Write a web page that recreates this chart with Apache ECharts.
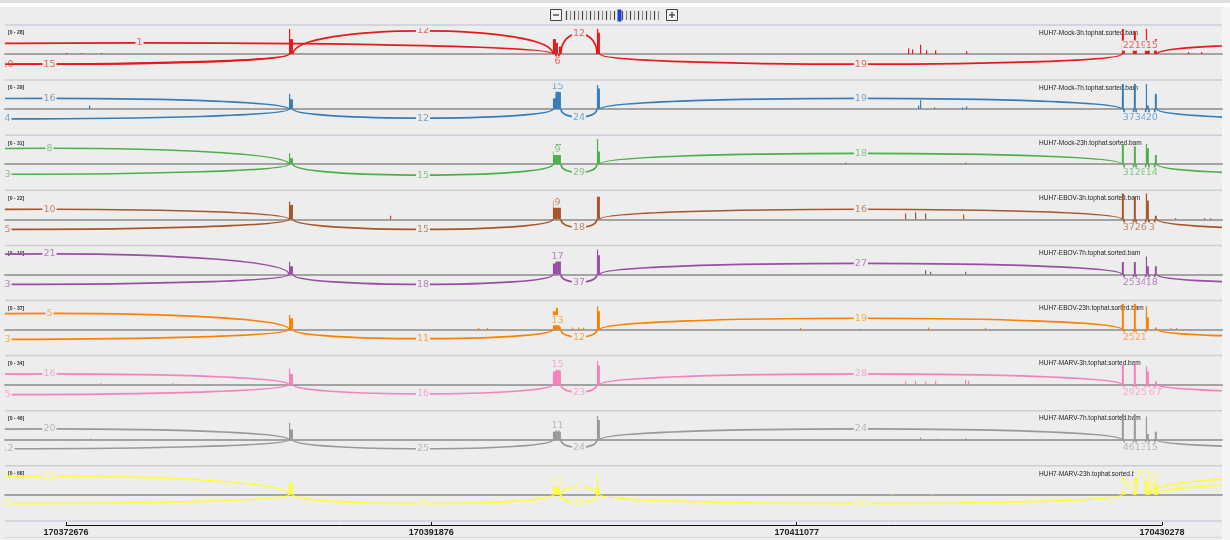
<!DOCTYPE html>
<html>
<head>
<meta charset="utf-8">
<script src="https://cdn.jsdelivr.net/npm/echarts@6/dist/echarts.min.js"></script>
<style>
html, body { margin: 0; padding: 0; background: #ededed; }
#sashimi { width: 1230px; height: 540px; }
</style>
</head>
<body>
<div id="sashimi"></div>
<script type="text/javascript">
	// visible window (chr position) and ruler ticks
	var viewStart = 170369470, viewEnd = 170433432;
	var tickValues = [170372676, 170391876, 170411077, 170430278];

	var trackNames = [
		'HUH7-Mock-3h.tophat.sorted.bam', 'HUH7-Mock-7h.tophat.sorted.bam', 'HUH7-Mock-23h.tophat.sorted.bam',
		'HUH7-EBOV-3h.tophat.sorted.bam', 'HUH7-EBOV-7h.tophat.sorted.bam', 'HUH7-EBOV-23h.tophat.sorted.bam',
		'HUH7-MARV-3h.tophat.sorted.bam', 'HUH7-MARV-7h.tophat.sorted.bam', 'HUH7-MARV-23h.tophat.sorted.bam'
	];
	var trackRanges = [28, 29, 31, 22, 19, 37, 34, 46, 68];

	// exon blocks (coverage pieces), same for every track
	var exonBlocks = [
		[170384395, 170384448], [170384448, 170384605],
		[170398268, 170398426], [170398426, 170398531], [170398583, 170398688],
		[170400580, 170400633], [170400633, 170400738],
		[170428169, 170428274], [170428799, 170428904],
		[170429430, 170429482], [170429482, 170429588], [170429903, 170430008]
	];
	// depth of each exon block, per track
	var depthMock3h  = [27, 16, 16, 12, 8, 27, 23, 27, 24, 27, 5, 16];
	var depthMock7h  = [17, 11, 12, 19, 19, 27, 23, 28, 28, 28, 4, 17];
	var depthMock23h = [13, 7, 15, 24, 24, 30, 15, 24, 21, 24, 19, 11];
	var depthEbov3h  = [15, 12, 16, 18, 18, 19, 19, 22, 19, 22, 16, 3];
	var depthEbov7h  = [9, 6, 8, 10, 10, 18, 14, 9, 9, 13, 6, 6];
	var depthEbov23h = [21, 16, 26, 31, 4, 33, 26, 37, 37, 33, 17, 3];
	var depthMarv3h  = [21, 14, 17, 18, 18, 31, 25, 26, 29, 24, 17, 4];
	var depthMarv7h  = [30, 18, 14, 14, 14, 42, 35, 46, 46, 41, 10, 14];
	var depthMarv23h = [31, 31, 21, 21, 5, 55, 20, 47, 44, 34, 10, 30];

	// scattered reads outside the exons: [position, depth]
	var readsMock3h  = [[170372676, 1], [170373464, 1], [170374515, 1], [170416929, 6], [170417139, 5], [170417560, 10], [170417875, 4], [170418348, 4], [170419977, 3], [170431645, 2], [170432328, 2]];
	var readsMock7h  = [[170373885, 4], [170417455, 4], [170417560, 10], [170418295, 2], [170419767, 2], [170419977, 3]];
	var readsMock23h = [[170413618, 2], [170419925, 2]];
	var readsEbov3h  = [[170389704, 3], [170416771, 5], [170417297, 6], [170417822, 5], [170419820, 4], [170430962, 1], [170432486, 1], [170432801, 1]];
	var readsEbov7h  = [[170417822, 3], [170418085, 2], [170419925, 2]];
	var readsEbov23h = [[170394329, 2], [170394802, 2], [170399270, 3], [170399585, 3], [170399848, 3], [170411253, 2], [170414406, 1], [170417980, 3], [170420976, 2], [170430699, 2], [170431014, 2]];
	var readsMarv3h  = [[170374463, 2], [170378247, 2], [170416771, 4], [170417297, 5], [170417822, 4], [170418348, 5], [170419925, 6], [170420082, 5]];
	var readsMarv7h  = [[170373937, 2], [170417560, 4], [170418453, 2], [170419925, 3]];
	var readsMarv23h = [[170416088, 3], [170418190, 3]];

	// splice sites
	var U2 = 170354810, U1 = 170359220;
	var A0 = 170384395, A1 = 170384605;
	var B0 = 170398268, Bx = 170398426, By = 170398583, B1 = 170398688;
	var C0 = 170400580, C1 = 170400738;
	var D1a = 170428169, D1b = 170428274, D2a = 170428799, D2b = 170428904;
	var D3a = 170429430, D3b = 170429588, D4a = 170429903, D4b = 170430008;
	var RT = 170448030;

	// junctions: [donor, acceptor, reads, arc apex (track depth units, minus = below)]
	var juncMock3h = [[U2, A0, 10, -11], [U1, A0, 15, -11], [U2, B0, 1, 12], [A1, B0, 12, 25], [Bx, By, 6, -8], [B1, C0, 12, 22], [C1, D1a, 19, -11],
		[D1b, D2a, 22, 9], [D2b, D3a, 19, 9], [D3b, D4a, 15, 9], [D4b, RT, 18, 11]];
	var juncMock7h = [[U1, A0, 16, 12], [U2, A0, 4, -11], [A1, B0, 12, -10], [Bx, By, 15, 25], [B1, C0, 24, -9], [C1, D1a, 19, 12],
		[D1b, D2a, 37, -9], [D2b, D3a, 34, -9], [D3b, D4a, 20, -9], [D4b, RT, 20, -11]];
	var juncMock23h = [[U1, A0, 8, 19], [U2, A0, 3, -12], [A1, B0, 15, -13], [Bx, By, 9, 17], [B1, C0, 29, -10], [C1, D1a, 18, 13],
		[D1b, D2a, 31, -10], [D2b, D3a, 28, -10], [D3b, D4a, 14, -10], [D4b, RT, 20, -12]];
	var juncEbov3h = [[U1, A0, 10, 8.5], [U2, A0, 5, -8.5], [A1, B0, 15, -8.5], [Bx, By, 9, 14], [B1, C0, 18, -7], [C1, D1a, 16, 8.5],
		[D1b, D2a, 37, -7], [D2b, D3a, 26, -7], [D3b, D4a, 3, -7], [D4b, RT, 20, -8.5]];
	var juncEbov7h = [[U1, A0, 21, 15], [U2, A0, 3, -7.3], [A1, B0, 18, -7.3], [Bx, By, 17, 13], [B1, C0, 37, -5.8], [C1, D1a, 27, 8],
		[D1b, D2a, 25, -5.8], [D2b, D3a, 34, -5.8], [D3b, D4a, 18, -5.8], [D4b, RT, 20, -6.6]];
	var juncEbov23h = [[U1, A0, 5, 23], [U2, A0, 3, -14], [A1, B0, 11, -13], [Bx, By, 13, 13], [B1, C0, 12, -11], [C1, D1a, 19, 16],
		[D1b, D2a, 25, -11], [D2b, D3a, 21, -11], [D4b, RT, 20, -11]];
	var juncMarv3h = [[U1, A0, 16, 14], [U2, A0, 5, -13], [A1, B0, 16, -12], [Bx, By, 15, 26], [B1, C0, 23, -10], [C1, D1a, 28, 14],
		[D1b, D2a, 29, -10], [D2b, D3a, 25, -10], [D3b, D4a, 6, -10], [D4a, 170430320, 7, -10], [D4b, RT, 20, -10]];
	var juncMarv7h = [[U1, A0, 20, 19], [U2, A0, 12, -16], [A1, B0, 25, -16], [Bx, By, 11, 25], [B1, C0, 24, -14], [C1, D1a, 24, 19],
		[D1b, D2a, 46, -14], [D2b, D3a, 13, -14], [D3b, D4a, 15, -14], [D4b, RT, 20, -14]];
	var juncMarv23h = [[U1, A0, 23, 49], [U2, A0, 5, -23], [A1, B0, 29, -23], [Bx, By, 11, 34], [B1, C0, 1, 21], [B1, C0, 48, -21], [C1, D1a, 26, -23],
		[D1b, D2a, 50, 23], [D2b, D3a, 36, 57], [D3b, D4a, 13, 49], [D3b, RT, 20, 50], [D4b, RT, 20, 31]];

	var trackDepths = [depthMock3h, depthMock7h, depthMock23h, depthEbov3h, depthEbov7h, depthEbov23h, depthMarv3h, depthMarv7h, depthMarv23h];
	var trackReads = [readsMock3h, readsMock7h, readsMock23h, readsEbov3h, readsEbov7h, readsEbov23h, readsMarv3h, readsMarv7h, readsMarv23h];
	var trackJuncs = [juncMock3h, juncMock7h, juncMock23h, juncEbov3h, juncEbov7h, juncEbov23h, juncMarv3h, juncMarv7h, juncMarv23h];

	// styles
	var trackColors = ['#e41a1c', '#377eb8', '#4daf4a', '#a65628', '#984ea3', '#ff7f00', '#f781bf', '#999999', '#ffff33'];
	var bgColor = '#ededed';
	var panelLeft = 5, panelRight = 1222;
	var firstTop = 25, trackH = 55.1;

	function lighten(hex, k) {
		var n = parseInt(hex.slice(1), 16);
		var r = (n >> 16) & 255, g = (n >> 8) & 255, b = n & 255;
		r = Math.round(r + (255 - r) * k); g = Math.round(g + (255 - g) * k); b = Math.round(b + (255 - b) * k);
		return 'rgb(' + r + ',' + g + ',' + b + ')';
	}

	function coverageRenderer(color) {
		return function (params, api) {
			var p0 = api.coord([api.value(0), api.value(2)]);
			var p1 = api.coord([api.value(1), 0]);
			return {
				type: 'rect',
				shape: { x: p0[0], y: p0[1], width: Math.max(p1[0] - p0[0], 1.2), height: p1[1] - p0[1] },
				style: { fill: color }
			};
		};
	}

	// IGV style arc: cubic bezier, control points straight above the two ends
	function arcRenderer(color, textColor) {
		return function (params, api) {
			var s = api.value(0), e = api.value(1), n = api.value(2), apex = api.value(3);
			var a = api.coord([s, 0]), b = api.coord([e, 0]);
			var peak = api.coord([(s + e) / 2, apex]);
			var cy = a[1] + (peak[1] - a[1]) / 0.75;
			return {
				type: 'group',
				children: [{
					type: 'bezierCurve',
					shape: { x1: a[0], y1: a[1], x2: b[0], y2: b[1], cpx1: a[0], cpy1: cy, cpx2: b[0], cpy2: cy },
					style: { stroke: color, lineWidth: 1.7, fill: null }
				}, {
					type: 'text',
					x: peak[0], y: peak[1],
					style: {
						text: String(n), fill: textColor, fontSize: 9.5, fontFamily: 'DejaVu Sans',
						align: 'center', verticalAlign: 'middle', backgroundColor: bgColor, padding: [0, 1]
					}
				}]
			};
		};
	}

	function buildOption() {
		var grids = [], xAxes = [], yAxes = [], series = [], graphics = [];

		// background pieces
		graphics.push({ type: 'rect', shape: { x: 0, y: 0, width: 1230, height: 3 }, style: { fill: '#e0e0e0' } });
		graphics.push({ type: 'rect', shape: { x: 0, y: 3, width: 1230, height: 4 }, style: { fill: '#ffffff' } });
		graphics.push({ type: 'rect', shape: { x: panelRight, y: 7, width: 8, height: 533 }, style: { fill: '#f5f5f5' } });

		for (var i = 0; i < 9; i++) {
			var trackTop = firstTop + i * trackH;
			var R = trackRanges[i];
			var color = trackColors[i];

			grids.push({ left: panelLeft, right: 1230 - panelRight, top: trackTop + 3, height: 52 });
			xAxes.push({
				gridIndex: i, type: 'value', min: viewStart, max: viewEnd,
				axisLine: { onZero: true, lineStyle: { color: '#a3a3a3', width: 2 } },
				axisTick: { show: false }, axisLabel: { show: false }, splitLine: { show: false }
			});
			yAxes.push({ gridIndex: i, type: 'value', min: -R, max: R, show: false });

			var cov = [];
			for (var k = 0; k < exonBlocks.length; k++) {
				cov.push([exonBlocks[k][0], exonBlocks[k][1], trackDepths[i][k]]);
			}
			trackReads[i].forEach(function (r) { cov.push([r[0], r[0] + 55, r[1]]); });

			series.push({
				type: 'custom', xAxisIndex: i, yAxisIndex: i, clip: true, silent: true,
				renderItem: coverageRenderer(color), encode: { x: [0, 1], y: 2 }, data: cov, z: 2
			});
			series.push({
				type: 'custom', xAxisIndex: i, yAxisIndex: i, clip: true, silent: true,
				renderItem: arcRenderer(color, lighten(color, 0.3)), encode: { x: [0, 1], y: 3 }, data: trackJuncs[i], z: 3
			});

			graphics.push({ type: 'line', shape: { x1: panelLeft, y1: trackTop, x2: panelRight, y2: trackTop }, style: { stroke: '#cdcdd8', lineWidth: 1.5 } });
			graphics.push({
				type: 'text', x: 8, y: trackTop + 8,
				style: { text: '[0 - ' + R + ']', fill: '#333', fontSize: 5, fontWeight: 'bold', fontFamily: 'Liberation Sans', verticalAlign: 'middle' }
			});
			graphics.push({
				type: 'text', x: 1039, y: trackTop + 8,
				style: { text: trackNames[i], fill: '#222', fontSize: 6.5, fontFamily: 'Liberation Sans', verticalAlign: 'middle' }
			});
		}
		var lastLine = firstTop + 9 * trackH;
		graphics.push({ type: 'line', shape: { x1: panelLeft, y1: lastLine, x2: panelRight, y2: lastLine }, style: { stroke: '#cdcdd8', lineWidth: 1.5 } });
		graphics.push({ type: 'line', shape: { x1: panelLeft, y1: 537.5, x2: panelRight, y2: 537.5 }, style: { stroke: '#d6d6d6', lineWidth: 1 } });

		// ruler
		grids.push({ left: 66, right: 1230 - 1162, top: 518, height: 7 });
		xAxes.push({
			gridIndex: 9, type: 'value', min: tickValues[0], max: tickValues[tickValues.length - 1],
			axisLine: { onZero: false, lineStyle: { color: '#111', width: 1 } },
			axisTick: { inside: true, length: 3, customValues: tickValues, lineStyle: { color: '#111' } },
			axisLabel: {
				customValues: tickValues, margin: 3, fontSize: 9, fontWeight: 'bold', color: '#222', fontFamily: 'Liberation Sans',
				formatter: function (v) { return String(v); }
			},
			splitLine: { show: false }
		});
		yAxes.push({ gridIndex: 9, type: 'value', min: 0, max: 1, show: false });

		// zoom widget at the top
		graphics.push({ type: 'rect', shape: { x: 550.5, y: 9.5, width: 11, height: 11 }, style: { fill: '#f4f4f4', stroke: '#444', lineWidth: 1 } });
		graphics.push({ type: 'line', shape: { x1: 553, y1: 15, x2: 559, y2: 15 }, style: { stroke: '#555', lineWidth: 1.5 } });
		for (var t = 0; t < 24; t++) {
			var tx = 566.5 + t * 4;
			graphics.push({ type: 'line', shape: { x1: tx, y1: 11, x2: tx, y2: 20 }, style: { stroke: t % 2 ? '#8a8a8a' : '#4a4a4a', lineWidth: 1.2 } });
		}
		graphics.push({ type: 'rect', shape: { x: 617.5, y: 9.5, width: 4, height: 12 }, style: { fill: '#1c3fd6' } });
		graphics.push({ type: 'rect', shape: { x: 666.5, y: 9.5, width: 11, height: 11 }, style: { fill: '#f4f4f4', stroke: '#444', lineWidth: 1 } });
		graphics.push({ type: 'line', shape: { x1: 669, y1: 15, x2: 675, y2: 15 }, style: { stroke: '#555', lineWidth: 1.5 } });
		graphics.push({ type: 'line', shape: { x1: 672, y1: 12, x2: 672, y2: 18 }, style: { stroke: '#555', lineWidth: 1.5 } });

		return {
			animation: false,
			backgroundColor: bgColor,
			grid: grids,
			xAxis: xAxes,
			yAxis: yAxes,
			graphic: graphics,
			series: series
		};
	}

	var chart = echarts.init(document.getElementById('sashimi'));
	chart.setOption(buildOption());
</script>
</body>
</html>
